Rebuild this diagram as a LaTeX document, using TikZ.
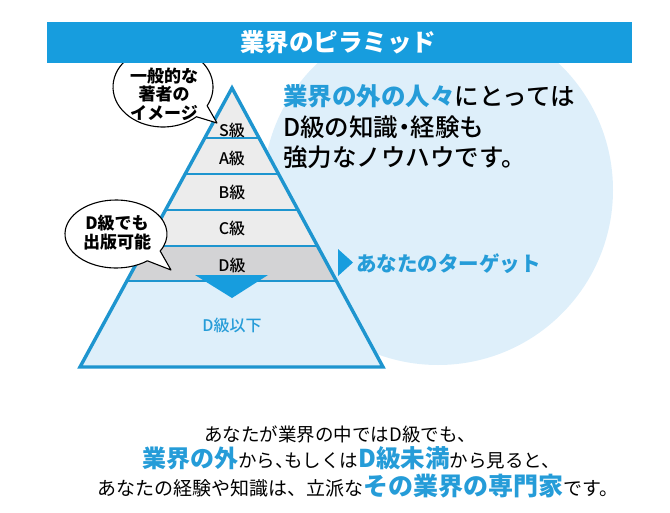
\documentclass[tikz,border=0pt]{standalone}
\usepackage{fontspec}
\newfontfamily\jp{Noto Sans CJK JP}
\newfontfamily\jpm{Noto Sans CJK JP Medium}
\newcommand\hw[1]{{\addfontfeatures{RawFeature=+halt}#1}}
\definecolor{barblue}{HTML}{179DDE}
\definecolor{txtblue}{HTML}{259CD8}
\definecolor{lightblue}{HTML}{DEEFFA}
\definecolor{lgrey}{HTML}{ECECEC}
\definecolor{dgrey}{HTML}{D3D3D5}
\definecolor{pyrblue}{HTML}{1E95CF}
\tikzset{
  jpf/.style={font=\jp\bfseries\fontsize{#1}{#1}\selectfont, inner sep=0pt},
  jpmf/.style={font=\jpm\fontsize{#1}{#1}\selectfont, inner sep=0pt},
  pyrline/.style={draw=pyrblue, line width=3.4pt, line join=miter},
  layerline/.style={draw=pyrblue, line width=2pt},
  bubble/.style={draw=black, fill=white, line width=1.1pt, line join=round},
  bubtext/.style={align=center, inner sep=0pt, font=\jp\bfseries\fontsize{17}{18.5}\selectfont},
  lvl/.style={jpmf=16, text=black, anchor=base},
}
\begin{document}
\begin{tikzpicture}[x=1pt,y=-1pt]
\useasboundingbox (0,0) rectangle (670,512);
% background circle
\begin{scope}
  \clip (0,63) rectangle (670,512);
  \fill[lightblue] (438,190) circle[radius=175];
\end{scope}
% pyramid
\begin{scope}
  \clip (232,88) -- (383,367) -- (80,367) -- cycle;
  \fill[lgrey] (0,80) rectangle (670,246);
  \fill[dgrey] (0,246) rectangle (670,281);
  \fill[lightblue] (0,281) rectangle (670,370);
  \foreach \yy in {138,174,210,246,281} \draw[layerline] (0,\yy) -- (670,\yy);
\end{scope}
\draw[pyrline] (232,88) -- (383,367) -- (80,367) -- cycle;
\fill[barblue] (195,275) -- (268,275) -- (232,298) -- cycle;
\node[lvl] (s) at (232,136) {S級};
\node[lvl] (a) at (232,164) {A級};
\node[lvl] (b) at (232,198) {B級};
\node[lvl] (c) at (232,234) {C級};
\node[lvl] (d) at (232,271) {D級};
\node[lvl, text=txtblue] (dl) at (232,331) {D級以下};
% bubbles
\path[bubble] (163,87) ++(48:50 and 40) arc[start angle=48, end angle=388, x radius=50, y radius=40] -- (217,123) -- cycle;
\path[bubble] (116,234) ++(52:51 and 34) arc[start angle=52, end angle=390, x radius=51, y radius=34] -- (171,270) -- cycle;
% title bar
\fill[barblue] (47,22) rectangle (632,63);
\node[jpf=24.5, text=white, anchor=base] (title) at (338,51) {業界のピラミッド};
\node[bubtext] (b1) at (164,94) {一般的な\\著者の\\イメージ};
\node[bubtext, font=\jp\bfseries\fontsize{17}{19}\selectfont] (b2) at (117,233) {D級でも\\出版可能};
% right text
\node[jpmf=24.5, anchor=base west] (r1) at (283,105) {\textcolor{txtblue}{\jp\bfseries 業界の外の人々}にとっては};
\node[jpmf=24.5, anchor=base west] (r2) at (283,136) {D級の知識\hw{・}経験も};
\node[jpmf=24.5, anchor=base west] (r3) at (283,166.5) {強力なノウハウです。};
% target
\fill[barblue] (338,249) -- (353,262.5) -- (338,276) -- cycle;
\node[jpf=20.5, text=txtblue, anchor=base west] (tgt) at (356,271) {あなたのターゲット};
% bottom text
\node[font=\jp\fontsize{18.5}{18.5}\selectfont, inner sep=0pt, anchor=base] (l1) at (340,441) {あなたが業界の中ではD級でも、};
\node[font=\jp\fontsize{18.5}{18.5}\selectfont, inner sep=0pt, anchor=base] (l2) at (351,467) {{\bfseries\fontsize{24}{24}\selectfont\color{txtblue}業界の外}から\hw{、}もしくは{\bfseries\fontsize{24.5}{24.5}\selectfont\color{txtblue}D級未満}から見ると、};
\node[font=\jp\fontsize{19}{19}\selectfont, inner sep=0pt, anchor=base] (l3) at (358,495) {あなたの経験や知識は、立派な{\bfseries\fontsize{25}{25}\selectfont\color{txtblue}その業界の専門家}です。};
\end{tikzpicture}
\end{document}
